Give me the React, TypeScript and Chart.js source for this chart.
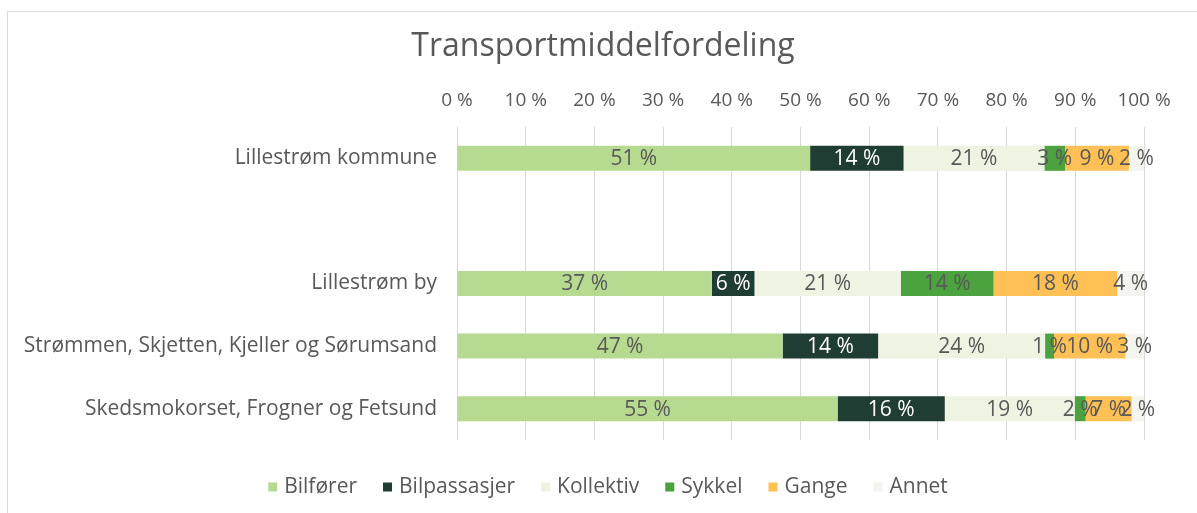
import React, { useEffect, useRef } from 'react';
import { Chart, registerables } from 'chart.js';

Chart.register(...registerables);

const categories = [
  'Lillestrøm kommune',
  '',
  'Lillestrøm by',
  'Strømmen, Skjetten, Kjeller og Sørumsand',
  'Skedsmokorset, Frogner og Fetsund',
];
const seriesNames = ['Bilfører', 'Bilpassasjer', 'Kollektiv', 'Sykkel', 'Gange', 'Annet'];
const bilforer = [51.4, null, 37.1, 47.4, 55.4];
const bilpassasjer = [13.6, null, 6.2, 13.9, 15.6];
const kollektiv = [20.5, null, 21.3, 24.3, 18.9];
const sykkel = [3.0, null, 13.5, 1.3, 1.6];
const gange = [9.3, null, 18.0, 10.4, 6.7];
const annet = [2.2, null, 3.9, 2.7, 1.8];
const seriesValues = [bilforer, bilpassasjer, kollektiv, sykkel, gange, annet];
const seriesColors = ['#B6DA90', '#1F3D32', '#EEF3E2', '#4BA23F', '#FFC055', '#F4F5EF'];
const labelColors = ['#595959', '#FFFFFF', '#595959', '#595959', '#595959', '#595959'];
const titleText = 'Transportmiddelfordeling';
const FONT = '"Open Sans"';
const TEXT = '#595959';

const framePlugin = {
  id: 'frame',
  beforeDraw(chart: any) {
    const ctx = chart.ctx;
    ctx.save();
    ctx.fillStyle = '#ffffff';
    ctx.fillRect(0, 0, chart.width, chart.height);
    ctx.strokeStyle = '#D9D9D9';
    ctx.lineWidth = 1;
    ctx.beginPath();
    ctx.moveTo(7.5, chart.height);
    ctx.lineTo(7.5, 11.5);
    ctx.lineTo(chart.width, 11.5);
    ctx.stroke();
    // title
    ctx.font = `32px ${FONT}`;
    ctx.fillStyle = TEXT;
    ctx.textAlign = 'center';
    ctx.textBaseline = 'middle';
    ctx.fillText(titleText, 603, 47);
    ctx.restore();
  },
};

const dataLabelPlugin = {
  id: 'dataLabels',
  afterDatasetsDraw(chart: any) {
    const ctx = chart.ctx;
    ctx.save();
    ctx.font = `21px ${FONT}`;
    ctx.textAlign = 'center';
    ctx.textBaseline = 'middle';
    chart.data.datasets.forEach((ds: any, di: number) => {
      const meta = chart.getDatasetMeta(di);
      meta.data.forEach((el: any, i: number) => {
        const v = ds.data[i];
        if (v === null || v === undefined) return;
        const p = el.getProps(['x', 'y', 'base'], true);
        ctx.fillStyle = labelColors[di];
        ctx.fillText(`${Math.round(v)} %`, (p.x + p.base) / 2, p.y + 1);
      });
    });
    ctx.restore();
  },
};

const legendPlugin = {
  id: 'customLegend',
  afterDraw(chart: any) {
    const ctx = chart.ctx;
    ctx.save();
    ctx.font = `21px ${FONT}`;
    ctx.textBaseline = 'middle';
    ctx.textAlign = 'left';
    const box = 9;
    const gap = 7;
    const spacing = 26;
    const items = chart.data.datasets.map((ds: any) => ({
      label: ds.label,
      color: ds.backgroundColor,
      w: box + gap + ctx.measureText(ds.label).width,
    }));
    const total = items.reduce((s: number, it: any) => s + it.w, 0) + spacing * (items.length - 1);
    let x = 608 - total / 2;
    const y = 487;
    items.forEach((it: any) => {
      ctx.fillStyle = it.color;
      ctx.fillRect(x, y - box / 2, box, box);
      ctx.fillStyle = TEXT;
      ctx.fillText(it.label, x + box + gap, y);
      x += it.w + spacing;
    });
    ctx.restore();
  },
};

export default function App() {
  const ref = useRef<HTMLCanvasElement>(null);

  useEffect(() => {
    if (!ref.current) return;
    const chart = new Chart(ref.current, {
      type: 'bar',
      data: {
        labels: categories,
        datasets: seriesNames.map((name, i) => ({
          label: name,
          data: seriesValues[i] as any,
          backgroundColor: seriesColors[i],
          borderWidth: 0,
          barPercentage: 0.4,
          categoryPercentage: 1.0,
        })),
      },
      options: {
        indexAxis: 'y',
        animation: false,
        responsive: false,
        maintainAspectRatio: false,
        layout: { padding: { left: 0, right: 53, top: 65, bottom: 73 } },
        plugins: {
          legend: { display: false },
          tooltip: { enabled: false },
          title: { display: false },
        },
        scales: {
          x: {
            position: 'top',
            stacked: true,
            min: 0,
            max: 100,
            ticks: {
              stepSize: 10,
              color: TEXT,
              font: { family: FONT, size: 19 },
              padding: 15,
              callback: (v: any) => `${v} %`,
            },
            grid: { color: '#D9D9D9', drawTicks: false, lineWidth: 1 },
            border: { display: false },
            afterFit: (scale: any) => {
              scale.height = 127 - 65;
            },
          },
          y: {
            stacked: true,
            ticks: {
              color: TEXT,
              font: { family: FONT, size: 21 },
              padding: 20,
            },
            grid: { display: false, drawTicks: false },
            border: { display: false },
            afterFit: (scale: any) => {
              scale.width = 457;
            },
          },
        },
      } as any,
      plugins: [framePlugin, dataLabelPlugin, legendPlugin],
    });
    return () => chart.destroy();
  }, []);

  return (
    <div style={{ position: 'fixed', left: 0, top: 0, width: 1197, height: 513 }}>
      <canvas ref={ref} width={1197} height={513} style={{ width: 1197, height: 513 }} />
    </div>
  );
}
